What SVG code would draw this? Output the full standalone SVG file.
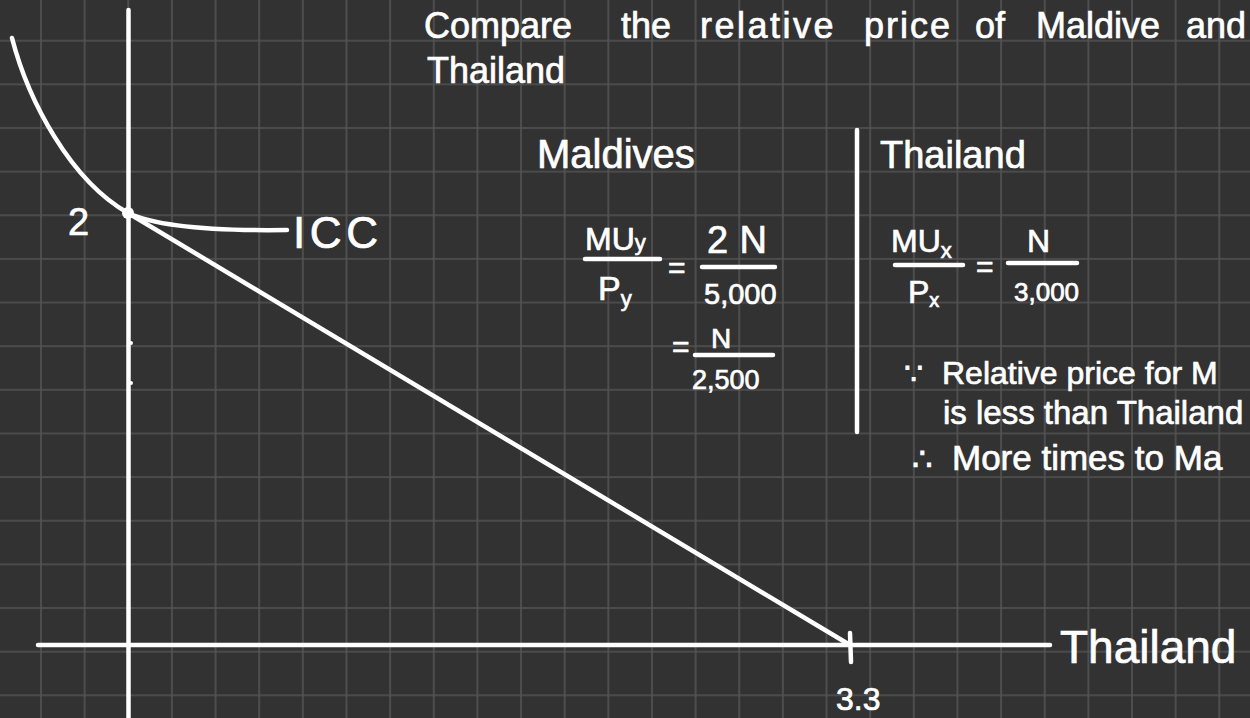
<svg xmlns="http://www.w3.org/2000/svg" width="1250" height="718" viewBox="0 0 1250 718">
<defs>
<pattern id="grid" x="19.18" y="18.88" width="43.64" height="43.64" patternUnits="userSpaceOnUse">
<path d="M21.82,0 V43.64 M0,21.82 H43.64" stroke="#545454" stroke-width="1.6" fill="none"/>
</pattern>
<style>
.ink{stroke:#fff;stroke-width:4.5;stroke-linecap:round;stroke-linejoin:round;fill:none}
.t{fill:#fff;stroke:#fff;stroke-width:0.7;font-family:"Liberation Sans","DejaVu Sans",sans-serif}
</style>
</defs>
<rect width="1250" height="718" fill="#323232"/>
<rect width="1250" height="718" fill="url(#grid)"/>

<g id="connectors">
<line class="ink" x1="128.5" y1="10" x2="128.5" y2="718"/>
<line class="ink" x1="38" y1="645" x2="1050" y2="645"/>
<line class="ink" x1="850" y1="633" x2="851" y2="662"/>
<line class="ink" x1="128" y1="213" x2="850" y2="645"/>
<path class="ink" d="M12,38 C28,100 70,180 128,213 C160,228 220,231 287,230"/>
<circle cx="128" cy="213" r="6" fill="#fff"/>
<circle cx="131" cy="343" r="2" fill="#fff"/>
<circle cx="131" cy="383" r="2" fill="#fff"/>
<line class="ink" x1="857" y1="130" x2="857" y2="432"/>
</g>

<g id="axis-labels">
<text class="t" x="68" y="235" font-size="38">2</text>
<text class="t" x="293" y="248" font-size="44" textLength="85">ICC</text>
<text class="t" x="836" y="710" font-size="32">3.3</text>
<text class="t" x="1060" y="663" font-size="46">Thailand</text>
</g>

<g id="title">
<text class="t" y="38" font-size="36"><tspan x="424">Compare</tspan> <tspan x="621">the</tspan> <tspan x="700" letter-spacing="2.5">relative</tspan> <tspan x="864" letter-spacing="2">price</tspan> <tspan x="975">of</tspan> <tspan x="1036">Maldive</tspan> <tspan x="1186">and</tspan></text>
<text class="t" x="427" y="83" font-size="36">Thailand</text>
</g>

<g id="maldives">
<text class="t" x="537" y="168" font-size="40">Maldives</text>
<text class="t" x="585" y="250" font-size="32">MU<tspan font-size="22">y</tspan></text>
<line class="ink" x1="585" y1="259" x2="660" y2="259"/>
<text class="t" x="598" y="300" font-size="34">P<tspan font-size="22" dy="6">y</tspan></text>
<text class="t" x="668" y="278" font-size="30">=</text>
<text class="t" x="707" y="253" font-size="38" textLength="60">2N</text>
<line class="ink" x1="702" y1="267" x2="775" y2="267"/>
<text class="t" x="704" y="304" font-size="29">5,000</text>
<text class="t" x="672" y="357" font-size="30">=</text>
<text class="t" x="711" y="348" font-size="28">N</text>
<line class="ink" x1="695" y1="355" x2="773" y2="355"/>
<text class="t" x="692" y="389" font-size="27">2,500</text>
</g>

<g id="thailand">
<text class="t" x="880" y="168" font-size="38">Thailand</text>
<text class="t" x="891" y="252" font-size="32">MU<tspan font-size="22" dy="6">x</tspan></text>
<line class="ink" x1="895" y1="265" x2="963" y2="265"/>
<text class="t" x="908" y="303" font-size="32">P<tspan font-size="20" dy="4">x</tspan></text>
<text class="t" x="976" y="277" font-size="30">=</text>
<text class="t" x="1027" y="252" font-size="32">N</text>
<line class="ink" x1="1008" y1="263" x2="1077" y2="263"/>
<text class="t" x="1014" y="301" font-size="26">3,000</text>
</g>

<g id="conclusion">
<text class="t" x="904" y="384" font-size="30">∵</text>
<text class="t" x="942" y="384" font-size="32">Relative price for M</text>
<text class="t" x="943" y="424" font-size="33">is less than Thailand</text>
<text class="t" x="912" y="470" font-size="32">∴</text>
<text class="t" x="952" y="470" font-size="35">More times to Ma</text>
</g>
</svg>
